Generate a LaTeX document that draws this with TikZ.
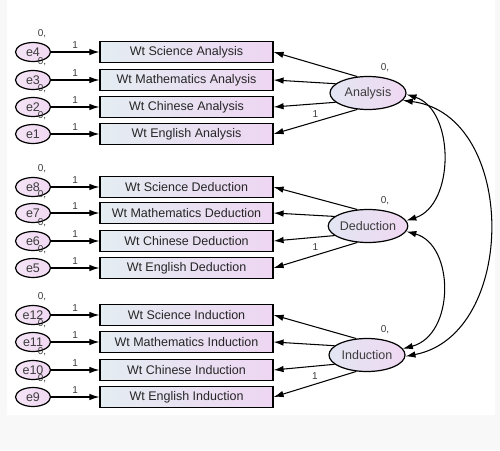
\documentclass[tikz,border=0pt]{standalone}
\usepackage{fontspec}
\setmainfont{Liberation Sans}
\usetikzlibrary{arrows.meta,shapes}
\definecolor{boxl}{RGB}{228,237,242}
\definecolor{boxr}{RGB}{238,214,242}
\definecolor{elll}{RGB}{226,230,242}
\definecolor{ellr}{RGB}{240,216,242}
\definecolor{labc}{RGB}{60,60,60}
\definecolor{bggray}{RGB}{248,248,248}

\begin{document}
\begin{tikzpicture}[x=1pt,y=-1pt,auto,>={Latex[length=10pt,width=6.5pt]},line width=1.05pt]
\tikzstyle{obs}=[rectangle,draw,line width=1.2pt,left color=boxl,right color=boxr,minimum width=173pt,minimum height=21pt,inner sep=0pt,text=black!85,font=\fontsize{12.5}{14}\selectfont]
\tikzstyle{err}=[ellipse,draw,line width=1.2pt,left color=ellr!70!white,right color=ellr,minimum width=35pt,minimum height=19pt,inner sep=0pt,text=labc,font=\fontsize{12.5}{14}\selectfont]
\tikzstyle{lat}=[ellipse,draw,line width=1.2pt,left color=elll,right color=ellr,minimum width=76pt,minimum height=33pt,inner sep=0pt,text=labc,font=\fontsize{12.5}{14}\selectfont]
\tikzstyle{lab}=[text=labc,inner sep=1pt,font=\fontsize{10}{11}\selectfont]
\fill[bggray](0,0)rectangle(500,450);
\fill[white](7,0)rectangle(495,415);
\useasboundingbox(0,0)rectangle(500,450);
% observed variables
\node(sa)at(186.5,52)[obs]{Wt Science Analysis};
\node(ma)at(186.5,80)[obs]{Wt Mathematics Analysis};
\node(ca)at(186.5,107)[obs]{Wt Chinese Analysis};
\node(ea)at(186.5,134)[obs]{Wt English Analysis};
\node(sd)at(186.5,187)[obs]{Wt Science Deduction};
\node(md)at(186.5,213)[obs]{Wt Mathematics Deduction};
\node(cd)at(186.5,241)[obs]{Wt Chinese Deduction};
\node(ed)at(186.5,268)[obs]{Wt English Deduction};
\node(si)at(186.5,315)[obs]{Wt Science Induction};
\node(mi)at(186.5,342)[obs]{Wt Mathematics Induction};
\node(ci)at(186.5,370)[obs]{Wt Chinese Induction};
\node(ei)at(186.5,397)[obs]{Wt English Induction};
% error terms
\node(e4)at(33,52)[err]{e4};
\node(e3)at(33,80)[err]{e3};
\node(e2)at(33,107)[err]{e2};
\node(e1)at(33,134)[err]{e1};
\node(e8)at(33,187)[err]{e8};
\node(e7)at(33,213)[err]{e7};
\node(e6)at(33,241)[err]{e6};
\node(e5)at(33,268)[err]{e5};
\node(e12)at(33,315)[err]{e12};
\node(e11)at(33,342)[err]{e11};
\node(e10)at(33,370)[err]{e10};
\node(e9)at(33,397)[err]{e9};
\node(v4)at(42,34)[lab]{0,};
\node(v3)at(42,62)[lab]{0,};
\node(v2)at(42,89)[lab]{0,};
\node(v1)at(42,116)[lab]{0,};
\node(v8)at(42,169)[lab]{0,};
\node(v7)at(42,195)[lab]{0,};
\node(v6)at(42,223)[lab]{0,};
\node(v5)at(42,250)[lab]{0,};
\node(v12)at(42,297)[lab]{0,};
\node(v11)at(42,324)[lab]{0,};
\node(v10)at(42,352)[lab]{0,};
\node(v9)at(42,379)[lab]{0,};
% latent variables
\node(ana)at(368,93)[lat]{Analysis};
\node(ded)at(368,226)[lat]{Deduction};
\node(ind)at(367,355)[lat]{Induction};
\node(va)at(385,68)[lab]{0,};
\node(vd)at(385,201)[lab]{0,};
\node(vi)at(385,330)[lab]{0,};
\draw[->](e4)--node[lab,above=2pt]{1}(sa);
\draw[->](e3)--node[lab,above=2pt]{1}(ma);
\draw[->](e2)--node[lab,above=2pt]{1}(ca);
\draw[->](e1)--node[lab,above=2pt]{1}(ea);
\draw[->](e8)--node[lab,above=2pt]{1}(sd);
\draw[->](e7)--node[lab,above=2pt]{1}(md);
\draw[->](e6)--node[lab,above=2pt]{1}(cd);
\draw[->](e5)--node[lab,above=2pt]{1}(ed);
\draw[->](e12)--node[lab,above=2pt]{1}(si);
\draw[->](e11)--node[lab,above=2pt]{1}(mi);
\draw[->](e10)--node[lab,above=2pt]{1}(ci);
\draw[->](e9)--node[lab,above=2pt]{1}(ei);
\draw[->](ana.123)--(sa.east);
\draw[->](ana.164)--(ma.east);
\draw[->](ana.196)--(ca.east);
\draw[->](ana.237)--node[lab,above=3pt]{1}(ea.east);
\draw[->](ded.123)--(sd.east);
\draw[->](ded.164)--(md.east);
\draw[->](ded.196)--(cd.east);
\draw[->](ded.237)--node[lab,above=3pt]{1}(ed.east);
\draw[->](ind.123)--(si.east);
\draw[->](ind.164)--(mi.east);
\draw[->](ind.196)--(ci.east);
\draw[->](ind.237)--node[lab,above=3pt]{1}(ei.east);
% covariances
\draw[<->](ana.-2)..controls(455,110)and(455,205)..(ded.8);
\draw[<->](ded.-8)..controls(455,245)and(455,335)..(ind.10);
\draw[<->](ana.-12)..controls(518,115)and(518,335)..(ind.-2);
\end{tikzpicture}
\end{document}
